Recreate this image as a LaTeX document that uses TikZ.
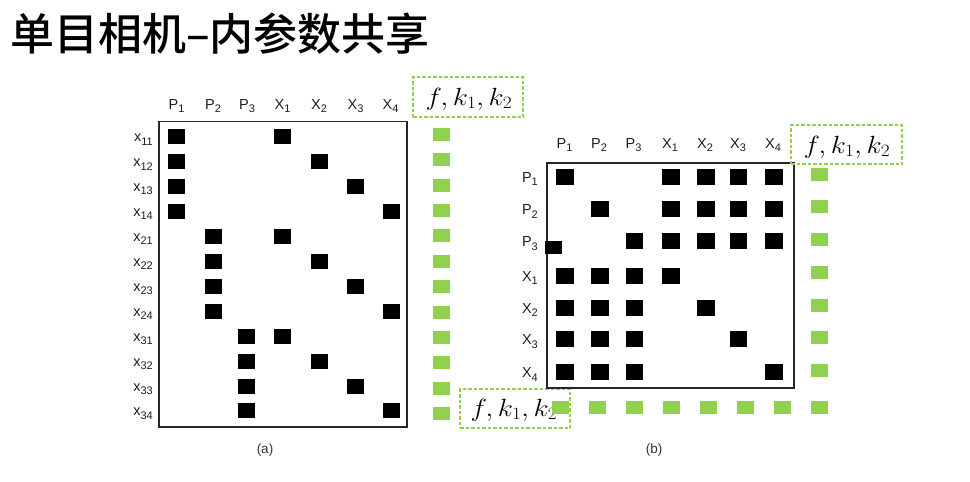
\documentclass[tikz,border=0pt]{standalone}
\usepackage{fontspec}
\setmainfont{Liberation Sans}
\newfontfamily\cjk{Noto Sans CJK SC}[UprightFont={* Medium},BoldFont={* Bold}]
\definecolor{grn}{HTML}{92D050}
\definecolor{labc}{HTML}{1E1E1E}
\newcommand{\lbl}[2]{#1\raisebox{-3.5pt}{\fontsize{11}{11}\selectfont #2}}
\newcommand{\fkk}{\scalebox{1.12}[1]{\fontsize{27}{27}\selectfont$f,k_1,k_2$}}
\begin{document}
\begin{tikzpicture}[x=1pt,y=-1pt,
  blk/.style={shape=rectangle,fill=black,minimum width=17pt,minimum height=15pt,inner sep=0pt,outer sep=0pt},
  blkb/.style={blk,minimum width=17.5pt,minimum height=16pt},
  gsq/.style={shape=rectangle,fill=grn,minimum width=17pt,minimum height=13pt,inner sep=0pt,outer sep=0pt},
  lab/.style={inner sep=0pt,text=labc,font=\fontsize{14.5}{14.5}\selectfont},
  frame/.style={draw=black!85,line width=1.3pt},
  pbox/.style={draw=grn,line width=1.1pt,dash pattern=on 3.5pt off 2pt,inner sep=0pt},
  captxt/.style={inner sep=0pt,text=black!80,font=\fontsize{13.5}{13.5}\selectfont}]
\useasboundingbox (0,0) rectangle (970,482);
% title
\node[anchor=west,inner sep=0pt] (title) at (10,34) {\cjk\fontsize{44}{44}\selectfont 单目相机–内参数共享};
% ---------- (a) ----------
\draw[frame] (159,121.5) rectangle (407,427);
\node[captxt] (capa) at (265,450) {(a)};
\foreach \n/\t/\s/\x in {aP1/P/1/176.5,aP2/P/2/213,aP3/P/3/247,aX1/X/1/282.5,aX2/X/2/319,aX3/X/3/355.5,aX4/X/4/390.5}
  \node[lab] (c\n) at (\x,106) {\lbl{\t}{\s}};
\foreach \i/\px in {1/176.5,2/213,3/246.5}
  \foreach \j/\xx in {1/282.5,2/319.5,3/355.5,4/391} {
    \pgfmathsetmacro\yy{136.5+24.95*((\i-1)*4+\j-1)}
    \pgfmathsetmacro\gy{134.5+25.36*((\i-1)*4+\j-1)}
    \node[blk] (aP\i\j) at (\px,\yy) {};
    \node[blk] (aX\i\j) at (\xx,\yy) {};
    \node[lab,anchor=east] (ar\i\j) at (153,\yy+3) {\lbl{x}{\i\j}};
    \node[gsq] (ag\i\j) at (441.5,\gy) {};
  }
\node[pbox,minimum width=110pt,minimum height=40pt] (fa) at (468,97) {};
\node[inner sep=0pt] (fat) at (469,99) {\fkk};
\node[pbox,minimum width=110pt,minimum height=39pt] (fb) at (515,408.5) {};
\node[inner sep=0pt] (fbt) at (514,410) {\fkk};
% ---------- (b) ----------
\draw[frame] (547,163) rectangle (794,388);
\node[captxt] (capb) at (654,450) {(b)};
\foreach \n/\t/\s/\x in {bP1/P/1/564.5,bP2/P/2/599,bP3/P/3/633.5,bX1/X/1/670,bX2/X/2/705,bX3/X/3/738,bX4/X/4/773}
  \node[lab] (c\n) at (\x,145) {\lbl{\t}{\s}};
\foreach \r/\ry/\t/\s in {1/176.5/P/1,2/209/P/2,3/241/P/3,4/275.5/X/1,5/307.5/X/2,6/339/X/3,7/372/X/4} {
  \node[lab,anchor=east] (br\r) at (538,\ry+2.5) {\lbl{\t}{\s}};
  \foreach \c/\cx in {1/565,2/600,3/634.5,4/671,5/706,6/738.5,7/774} {
    \pgfmathtruncatemacro\on{((\r<4)&&((\c==\r)||(\c>3)))||((\r>3)&&((\c<4)||(\c==\r)))}
    \ifnum\on=1 \node[blkb] (b\r\c) at (\cx,\ry) {};\fi
  }
}
\node[blk,minimum height=13pt] (bodd) at (553.5,247.5) {};
\foreach \k/\gy in {1/174,2/206.5,3/239.5,4/272,5/305,6/337.5,7/370,8/407.5}
  \node[gsq] (bgr\k) at (819.5,\gy) {};
\foreach \k/\gx in {1/560,2/597.5,3/634.5,4/671.5,5/708.5,6/745.5,7/782.5}
  \node[gsq] (bgb\k) at (\gx,407.5) {};
\node[pbox,minimum width=111pt,minimum height=39pt] (fc) at (846.5,144.5) {};
\node[inner sep=0pt] (fct) at (847,147) {\fkk};
\end{tikzpicture}
\end{document}
